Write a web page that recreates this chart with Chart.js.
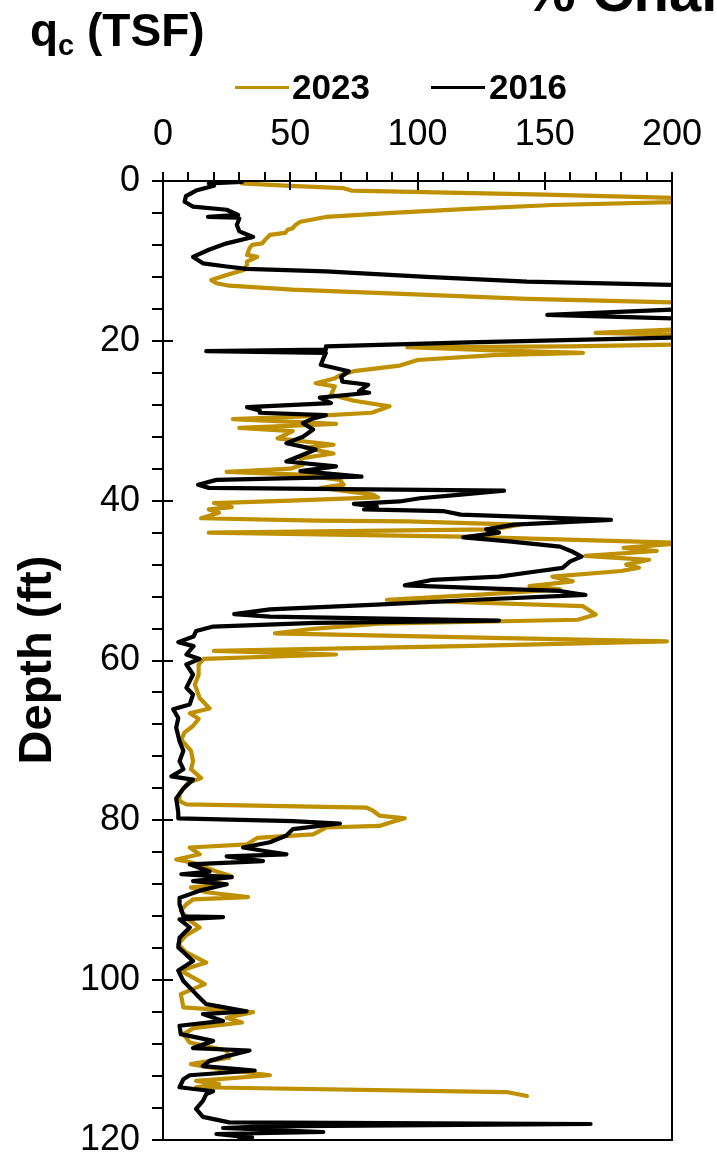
<!DOCTYPE html>
<html><head><meta charset="utf-8">
<script src="https://cdn.jsdelivr.net/npm/chart.js@4.4.1/dist/chart.umd.min.js"></script>
<style>
html,body{margin:0;padding:0;background:#fff;overflow:hidden;width:717px;height:1161px;}
#wrap{position:relative;width:717px;height:1161px;overflow:hidden;}
canvas{position:absolute;left:0;top:0;}
.t{position:absolute;font-family:"Liberation Sans",Arial,sans-serif;color:#000;white-space:nowrap;font-weight:bold;}
.sw{position:absolute;height:3px;}
</style></head><body>
<div id="wrap">
<canvas id="c" width="717" height="1161"></canvas>
<div class="t" style="left:524px;top:-38px;font-size:58px;line-height:58px;">% Change</div>
<div class="t" style="left:30px;top:7px;font-size:46px;line-height:46px;">q<span style="font-size:29px;position:relative;top:9px;">c</span> (TSF)</div>
<div class="sw" style="left:235px;top:86px;width:54px;background:#BF9000;"></div>
<div class="t" style="left:292px;top:69px;font-size:35px;line-height:36px;">2023</div>
<div class="sw" style="left:431px;top:86px;width:54px;background:#000;"></div>
<div class="t" style="left:489px;top:69px;font-size:35px;line-height:36px;">2016</div>
<div class="t" style="left:-75px;top:637px;width:220px;text-align:center;font-size:47px;line-height:46px;transform:rotate(-90deg);">Depth (ft)</div>
</div>
<script>
// ---- data ----
const seriesNames = ['2023', '2016'];
const xTicks = [0, 50, 100, 150, 200];
const yTicks = [0, 20, 40, 60, 80, 100, 120];

const depth2023 = [0.3,0.6,0.9,1.2,1.7,2.2,2.6,3.0,3.5,4.0,4.5,5.1,5.5,5.9,6.1,6.5,6.75,7.4,7.8,8.0,8.4,9.25,9.5,10.1,10.5,11.1,11.75,12.4,12.8,13.1,13.6,14.25,14.75,15.2,15.6,17.0,18.3,18.6,19.0,19.2,19.5,20.3,20.7,20.8,21.2,21.5,21.8,22.4,22.8,23.1,23.8,24.25,24.75,25.3,25.7,26.75,27.5,28.2,29.0,29.4,29.8,30.4,30.9,31.3,32.2,33.0,33.4,34.1,34.7,35.5,36.0,36.4,36.75,37.4,38.0,38.4,39.25,39.6,40.0,40.3,40.8,41.1,41.5,42.2,42.5,42.6,43.0,43.6,44.0,44.3,44.5,45.3,45.9,46.3,46.9,47.4,48.0,48.4,48.8,49.5,50.1,50.7,51.1,51.75,52.4,53.2,54.25,54.9,55.4,56.0,56.6,57.1,57.6,58.2,58.8,59.25,59.8,60.5,61.8,63.0,64.7,66.0,66.6,67.3,68.2,69.0,69.9,71.3,72.6,73.6,74.7,75.3,76.75,77.6,78.0,78.4,78.8,79.4,79.75,80.3,80.7,80.9,81.75,82.2,83.0,83.4,84.25,84.5,84.9,85.3,86.4,87.0,87.6,88.0,88.4,89.0,89.6,89.9,90.5,91.3,92.4,93.4,94.4,95.5,96.5,97.8,98.8,100.5,101.75,103.4,104.0,104.7,105.3,106.0,106.75,107.8,108.8,109.7,110.5,111.1,111.9,112.6,113.0,113.4,114.0,114.5];
const qc2023 = [31,50,71,74,150,210,205,153,120,90,64,54,52,51,49,48,42,40,39,35,34,33,37,33,33,32,25,19,21,26,51,104,143,200,240,260,230,200,170,200,240,230,160,96,130,165,130,100,96,93,75,70,67,60,67.5,66,75,89,82,60,27.5,68,30,51,45,67,56,67,54,55,50,25,54,69.5,71,62,82.5,84.5,50,20,27,18,22,15,60,96,140,130,18,80,117,205,181,194,166,191,182,187,180,153,161,144,156,124.5,88,165,170,163,85,60,44,120,198,117,20,68,16,14,14,12.5,14.4,18.3,10.5,14,11.8,8.5,7.2,11,11.8,11,15,9.8,6.5,6.5,9.2,80,82.5,85,95,89,85,64,59,37,33,10.5,14.4,11,5.2,11.8,21,27,15.7,25,11,17,33.4,11.8,9.2,7,10,14.4,9,6,9,17,7,16.4,7,8,35.4,25,31,12,8,10.5,25,26,11,22,42,13,22,13,135,143];

const depth2016 = [0.1,0.3,0.6,1.2,1.9,2.6,3.2,3.6,4.25,4.5,4.6,4.7,5.5,6.3,7.0,7.8,8.6,9.5,10.3,10.7,11.0,11.3,12.0,12.6,13.0,13.5,15.5,16.1,16.75,17.2,17.6,19.2,19.6,20.2,20.7,21.1,21.3,21.5,22.2,23.0,23.8,24.5,25.1,25.5,26.3,26.5,27.1,27.8,28.3,28.7,29.0,29.3,29.7,30.3,31.1,32.0,32.8,33.6,34.25,35.1,35.7,36.3,37.0,37.4,38.0,38.4,38.75,39.25,39.7,40.1,40.4,40.75,41.1,41.3,41.75,42.4,43.0,43.6,44.0,44.6,45.1,45.75,46.4,47.0,47.6,48.4,48.8,49.5,49.9,50.6,51.0,51.3,51.8,52.4,53.0,53.6,54.2,54.5,55.0,55.3,55.75,56.3,57.0,57.7,58.2,59.25,59.8,60.5,61.75,63.4,64.25,65.5,66.1,67.2,68.4,70.1,71.3,72.6,73.6,74.5,74.9,76.0,77.25,79.0,79.75,80.1,80.4,81.1,81.9,82.75,83.4,83.8,84.25,84.5,85.1,85.5,86.4,86.75,87.1,87.6,88.0,88.8,89.7,90.5,92.0,92.1,92.4,93.4,94.7,95.9,97.6,98.8,100.1,101.75,103.0,103.9,104.25,105.1,105.7,106.75,107.6,108.5,108.8,109.5,110.1,110.75,111.3,111.9,112.4,113.4,113.9,114.25,115.1,116.1,117.1,117.8,118.0,118.3,118.5,119.0,119.25,119.7,119.9];
const qc2016 = [31,18,20,13,9,8.5,11.8,25,29.5,17.7,29,30,29,30,35.4,25,18,11.8,15.7,25,32.8,64,103.5,143,200,240,240,200,151,200,240,240,200,120,64,64,17,64,63,62,73,70,70.5,80.6,77,81,61.6,66,33,38,38,64,59,55,59,55,48.5,60,55,48.5,68,54,78,21,13.8,18,134,117,101,93,75,84,79,110,117,176,138,127,132,118,136,156,161,164.5,160,157,148,132,106,95,130,156,166,123,84,42,28,42,132,60,19.7,13,12,6,12,9.2,14.4,9.2,11.8,9.2,11.8,10.5,4,6,5.2,6.5,8,6.5,8,3.3,11.8,8,5.2,6,6,51,69.5,51,48.5,42,31.5,39.3,48.5,25,39.3,10.5,18.3,7.2,27,11.8,25,14.4,6.5,6.5,8,23.6,6.5,10.5,6.5,6,11.8,6,8,13,17,32.8,15.7,23.6,6.5,7,19.7,11.8,34,25,18.3,15.7,36,10.5,8,6.5,19.7,17,15.7,13,15.7,26,168,40,23.6,63,21,35,30];

const X_MINOR = 10, Y_MINOR = 4;

const FONT = '"Liberation Sans", Arial, sans-serif';
const toPts = (ds, vs) => ds.map((d, i) => ({x: vs[i], y: d}));

const tickPlugin = {
  id: 'axisTicks',
  afterDraw(chart) {
    const ctx = chart.ctx, a = chart.chartArea, xs = chart.scales.x, ys = chart.scales.y;
    ctx.save();
    ctx.strokeStyle = '#000';
    ctx.lineWidth = 2;
    ctx.strokeRect(a.left, a.top, a.right - a.left, a.bottom - a.top);
    ctx.beginPath();
    const xMin = xTicks[0], xMax = xTicks[xTicks.length - 1];
    for (let v = xMin; v <= xMax + 1e-9; v += X_MINOR) {
      const px = Math.round(xs.getPixelForValue(v));
      const major = xTicks.includes(v);
      ctx.moveTo(px, a.top - 9);
      ctx.lineTo(px, a.top + (major ? 9 : 0));
    }
    const yMin = yTicks[0], yMax = yTicks[yTicks.length - 1];
    for (let v = yMin; v <= yMax + 1e-9; v += Y_MINOR) {
      const py = Math.round(ys.getPixelForValue(v));
      const major = yTicks.includes(v);
      ctx.moveTo(a.left - 11, py);
      ctx.lineTo(a.left + (major ? 10 : 0), py);
    }
    ctx.stroke();
    ctx.restore();
  }
};

new Chart(document.getElementById('c'), {
  type: 'scatter',
  data: {
    datasets: [
      {label: seriesNames[0], data: toPts(depth2023, qc2023), showLine: true, borderColor: '#BF9000', backgroundColor: '#BF9000',
       borderWidth: 4.2, pointRadius: 0, tension: 0, order: 2, clip: 1, borderJoinStyle: 'round', borderCapStyle: 'round'},
      {label: seriesNames[1], data: toPts(depth2016, qc2016), showLine: true, borderColor: '#000000', backgroundColor: '#000000',
       borderWidth: 4.2, pointRadius: 0, tension: 0, order: 1, clip: 1, borderJoinStyle: 'round', borderCapStyle: 'round'}
    ]
  },
  options: {
    responsive: false, animation: false, devicePixelRatio: 1,
    layout: {padding: {left: 0, right: 45, top: 0, bottom: 21}},
    plugins: {legend: {display: false}, tooltip: {enabled: false}},
    scales: {
      x: {
        type: 'linear', position: 'top', min: xTicks[0], max: xTicks[xTicks.length - 1],
        afterBuildTicks(s) { s.ticks = xTicks.map(v => ({value: v})); },
        ticks: {font: {family: FONT, size: 36}, color: '#000', padding: 24, maxRotation: 0, autoSkip: false},
        grid: {display: false, drawTicks: false, tickLength: 0},
        border: {display: false},
        afterFit(s) { s.height = 181; s.paddingLeft = 0; s.paddingRight = 0; }
      },
      y: {
        type: 'linear', reverse: true, min: yTicks[0], max: yTicks[yTicks.length - 1],
        afterBuildTicks(s) { s.ticks = yTicks.map(v => ({value: v})); },
        ticks: {font: {family: FONT, size: 36}, color: '#000', padding: 23, autoSkip: false},
        grid: {display: false, drawTicks: false, tickLength: 0},
        border: {display: false},
        afterFit(s) { s.width = 163; s.paddingTop = 0; s.paddingBottom = 0; }
      }
    }
  },
  plugins: [tickPlugin]
});
</script>
</body></html>
